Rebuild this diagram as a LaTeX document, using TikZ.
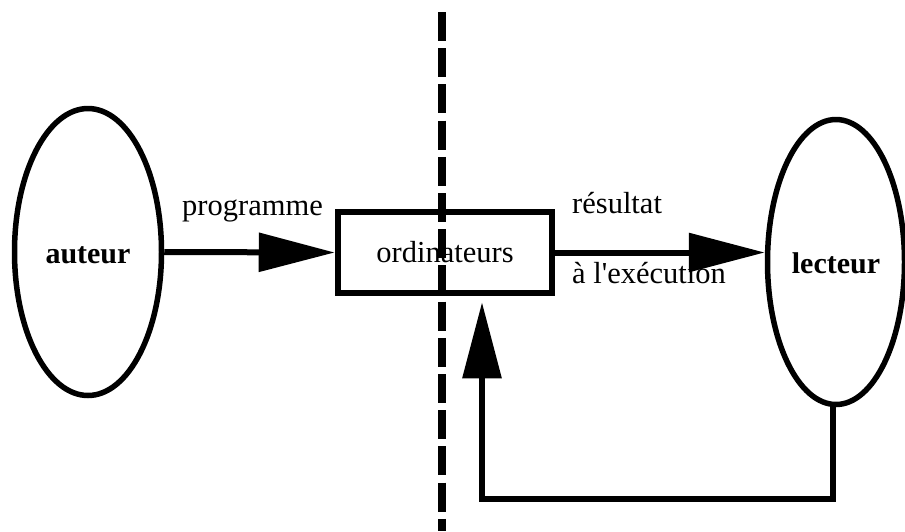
\documentclass[tikz,border=0pt]{standalone}
\usepackage{fontspec}
\setmainfont{Liberation Serif}[Ligatures=TeXOff]
\usetikzlibrary{shapes.geometric,arrows.meta,calc}
\tikzset{
  txt/.style={font=\fontsize{30.5}{33}\selectfont, inner sep=0pt},
  oval/.style={ellipse, draw, line width=5.5pt, inner sep=0pt, font=\fontsize{30}{33}\selectfont\bfseries},
  boxnode/.style={rectangle, draw, line width=6.5pt, inner sep=0pt, font=\fontsize{30.5}{33}\selectfont},
  arr/.style={line width=6pt, -{Triangle[length=76pt, width=38pt]}},
  sepline/.style={line width=8pt, dash pattern=on 29pt off 7.2pt}
}
\begin{document}
\begin{tikzpicture}[x=1pt, y=-1pt]
\useasboundingbox (0,0) rectangle (905,531);
\node[oval, minimum width=147pt, minimum height=287pt, text height=22pt, text depth=0pt] (auteur) at (88,252) {auteur};
\node[oval, minimum width=137pt, minimum height=285pt, text height=22pt, text depth=0pt] (lecteur) at (836,262) {lecteur};
\node[boxnode, minimum width=214pt, minimum height=81pt] (ordi) at (445,252.5) {ordinateurs};
\node[txt, anchor=base] (prog) at (252.5,215) {programme};
\node[txt, anchor=base west] (res1) at (572,213) {résultat};
\node[txt, anchor=base west] (res2) at (572,283) {à l'exécution};
\coordinate (fbR) at (833,499);
\coordinate (fbL) at (482,499);
\draw[arr] (auteur.east) -- (ordi.west);
\draw[arr] (ordi.east) -- (lecteur.west |- ordi.east);
\draw[arr, line join=miter, shorten >=6pt] (lecteur.south -| fbR) -- (fbR) -- (fbL) -- (ordi.south -| fbL);
\coordinate (dT) at (442,12);
\coordinate (dB) at (442,531);
\draw[sepline] (dT) -- (dB);
\end{tikzpicture}
\end{document}
